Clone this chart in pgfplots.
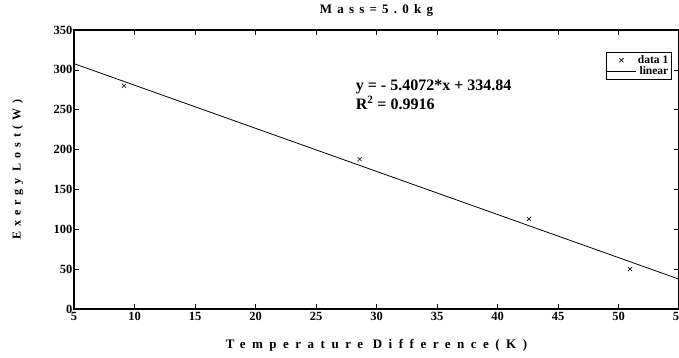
\documentclass[border=0pt]{standalone}
\usepackage{fontspec}
\setmainfont{Liberation Serif}
\newfontfamily\spaced[LetterSpace=40]{Liberation Serif}
\newfontfamily\spacedx[LetterSpace=50]{Liberation Serif}
\usepackage{pgfplots}
\pgfplotsset{compat=1.18}
\pgfplotsset{
  marklegend/.style={legend image code/.code={\draw[mark repeat=2,mark phase=2,##1] plot coordinates {(0cm,0cm) (0.5cm,0cm) (1cm,0cm)};}},
  linelegend/.style={legend image code/.code={\draw[##1] (0cm,0cm) -- (1cm,0cm);}},
}
\begin{document}
\begin{tikzpicture}
\begin{axis}[
  at={(0,0)}, anchor=south west,
  scale only axis, width=605pt, height=279pt,
  xmin=5, xmax=55, ymin=0, ymax=350,
  xtick={5,10,...,55}, ytick={0,50,...,350},
  tick align=inside, major tick length=5pt,
  tick style={black, line width=0.6pt},
  axis line style={line width=1.3pt},
  /pgf/number format/assume math mode=true,
  ticklabel style={font=\fontsize{12.5}{12.5}\selectfont\bfseries},
  yticklabel style={xshift=2pt},
  xlabel={\spacedx\bfseries Temperature Difference(K)},
  ylabel={\spaced\bfseries Exergy Lost(W)},
  title={\spaced\bfseries Mass=5.0kg},
  xlabel style={at={(axis description cs:0.5,-0.129)}, anchor=center, font=\fontsize{13}{13}\selectfont},
  ylabel style={at={(axis description cs:-0.093,0.5)}, anchor=center, font=\fontsize{12}{12}\selectfont},
  title style={at={(axis description cs:0.5,1.047)}, anchor=center, font=\fontsize{13}{13}\selectfont},
  legend style={at={(rel axis cs:0.988,0.921)}, anchor=north east,
    font=\fontsize{11.5}{12}\selectfont\bfseries, draw=black, line width=0.8pt,
    inner sep=1pt, row sep=-2pt, cells={anchor=east}},
  legend image post style={line width=0.6pt},
]
\addplot[only marks, mark=x, mark size=3pt, black, line width=0.6pt, marklegend]
  coordinates {(9.13,280) (28.6,188) (42.6,113) (50.95,50)};
\addlegendentry{data 1}
\addplot[black, line width=0.8pt, no marks, linelegend]
  coordinates {(5,307.80) (55,37.44)};
\addlegendentry{linear}
\node[anchor=west, align=left, font=\fontsize{16}{19}\selectfont\bfseries]
  at (axis cs:28.0,269) {y = - 5.4072*x + 334.84\\R$^{\mathbf{2}}$ = 0.9916};
\end{axis}
\pgfresetboundingbox
\path (-74pt,-49pt) rectangle (605pt,309pt);
\end{tikzpicture}
\end{document}
